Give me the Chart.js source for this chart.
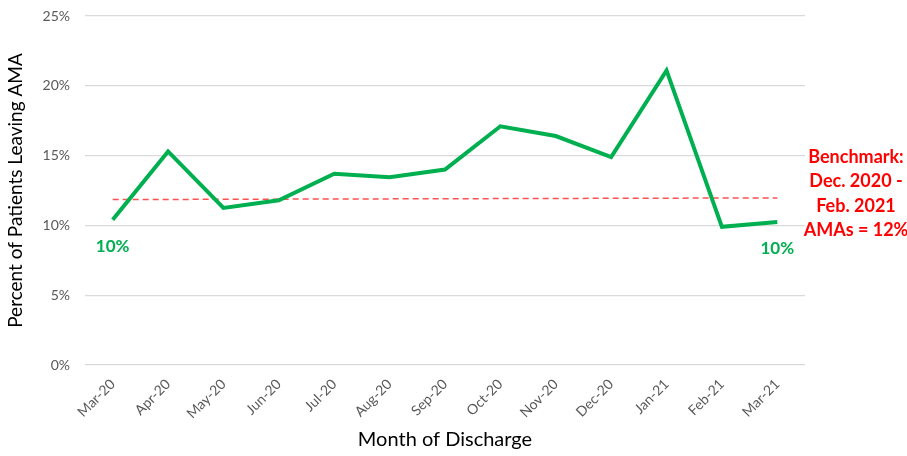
<!DOCTYPE html>
<html>
<head>
<meta charset="utf-8">
<script src="https://cdn.jsdelivr.net/npm/chart.js@4"></script>
<style>
  body { margin: 0; background: #fff; }
  #wrap { width: 907px; height: 456px; }
</style>
</head>
<body>
<div id="wrap"><canvas id="myChart" width="907" height="456"></canvas></div>
<script>
const months = ['Mar-20', 'Apr-20', 'May-20', 'Jun-20', 'Jul-20', 'Aug-20', 'Sep-20', 'Oct-20', 'Nov-20', 'Dec-20', 'Jan-21', 'Feb-21', 'Mar-21']
const amaPercent = [10.4, 15.3, 11.25, 11.8, 13.7, 13.45, 14.0, 17.1, 16.4, 14.9, 21.1, 9.9, 10.25]
const benchmark = [11.85, 11.86, 11.87, 11.88, 11.89, 11.9, 11.91, 11.92, 11.93, 11.94, 11.95, 11.96, 11.97]
const yTicks = [0, 5, 10, 15, 20, 25]
const pointLabels = [[0, '10%'], [12, '10%']]
const benchmarkText = ['Benchmark:', 'Dec. 2020 -', 'Feb. 2021', 'AMAs = 12%']

const font = 'Lato, "Open Sans", sans-serif'

// draws the "10%" callouts and the benchmark note
const notes = {
    id: 'notes',
    afterDatasetsDraw(chart) {
        let ctx = chart.ctx
        let x = chart.scales.x
        let y = chart.scales.y
        ctx.save()
        ctx.textAlign = 'center'
        ctx.textBaseline = 'middle'
        ctx.fillStyle = '#00B050'
        ctx.font = 'bold 17px ' + font
        pointLabels.forEach(function (p) {
            let i = p[0]
            ctx.fillText(p[1], x.getPixelForValue(i), y.getPixelForValue(amaPercent[i]) + 27)
        })
        ctx.fillStyle = '#FF0000'
        ctx.font = 'bold 18px ' + font
        let cx = chart.chartArea.right + 51
        let cy = y.getPixelForValue(benchmark[12]) - 41
        benchmarkText.forEach(function (t, k) {
            ctx.fillText(t, cx, cy + k * 24.5)
        })
        ctx.restore()
    }
}

new Chart(document.getElementById('myChart').getContext('2d'), {
    type: 'line',
    data: {
        labels: months,
        datasets: [{
            label: 'Percent leaving AMA',
            data: amaPercent,
            borderColor: '#00B050',
            borderWidth: 4,
            pointRadius: 0,
            tension: 0,
            order: 1
        }, {
            label: 'Benchmark',
            data: benchmark,
            borderColor: '#FF5050',
            borderWidth: 1.5,
            borderDash: [6, 4],
            pointRadius: 0,
            order: 2
        }]
    },
    options: {
        responsive: false,
        animation: false,
        layout: { padding: { top: 16, right: 102, left: 0, bottom: 0 } },
        plugins: { legend: { display: false }, tooltip: { enabled: false } },
        scales: {
            x: {
                offset: true,
                grid: { display: false },
                border: { display: false },
                ticks: {
                    color: '#595959',
                    font: { family: font, size: 14 },
                    minRotation: 45,
                    maxRotation: 45
                },
                title: {
                    display: true,
                    text: 'Month of Discharge',
                    color: '#000',
                    font: { family: font, size: 20 }
                },
                afterFit(scale) { scale.height = 91 }
            },
            y: {
                min: 0,
                max: 25,
                afterBuildTicks(scale) { scale.ticks = yTicks.map(v => ({ value: v })) },
                grid: { color: '#D9D9D9', lineWidth: 1.3, drawTicks: false },
                border: { display: false },
                ticks: {
                    color: '#595959',
                    font: { family: font, size: 14 },
                    padding: 15,
                    callback: v => v + '%'
                },
                title: {
                    display: true,
                    text: 'Percent of Patients Leaving AMA',
                    color: '#000',
                    font: { family: font, size: 19 }
                },
                afterFit(scale) {
                    scale.width = 85
                    scale.paddingTop = 0
                    scale.paddingBottom = 0
                }
            }
        }
    },
    plugins: [notes]
})
</script>
</body>
</html>
